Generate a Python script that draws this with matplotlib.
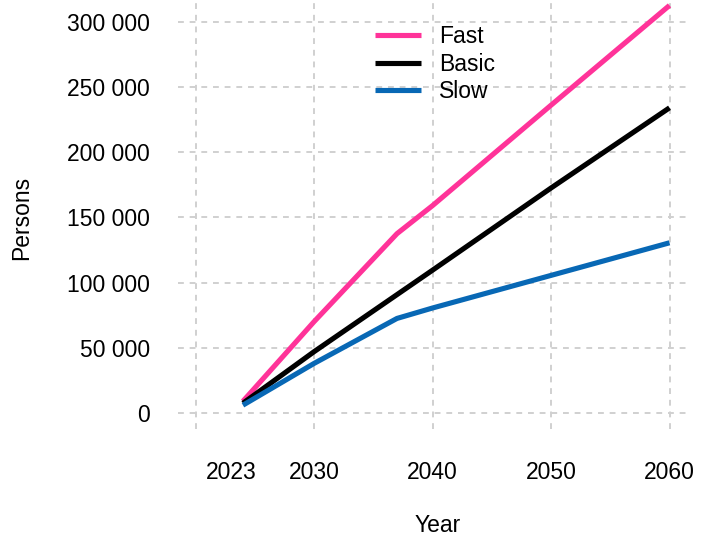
import matplotlib
matplotlib.use("Agg")
import matplotlib.pyplot as plt

# values
years_fast = [2024, 2030, 2037, 2040, 2050, 2060]
fast = [9000, 70000, 137500, 159000, 236000, 312500]

years_basic = [2024, 2030, 2040, 2050, 2060]
basic = [7500, 47000, 109500, 172500, 234000]

years_slow = [2024, 2030, 2037, 2040, 2050, 2060]
slow = [6000, 38000, 72500, 80500, 105500, 130500]

x_ticks = [2023, 2030, 2040, 2050, 2060]
x_grid = [2020, 2030, 2040, 2050, 2060]
y_ticks = [0, 50000, 100000, 150000, 200000, 250000, 300000]

plt.rcParams['font.family'] = ['Liberation Sans', 'DejaVu Sans']

fig = plt.figure(figsize=(7.12, 5.42), dpi=100)
ax = fig.add_axes([178 / 712, 1 - 429 / 542, (688 - 178) / 712, 429 / 542])

grid_kw = dict(color='#d0d0d0', linestyle=(0, (3, 3)), linewidth=1.4, zorder=0)
for g in x_grid:
    ax.axvline(g, **grid_kw)
for g in y_ticks:
    ax.axhline(g, **grid_kw)

lw = 3.7
ax.plot(years_fast, fast, color='#ff3399', lw=lw, label='Fast', solid_capstyle='butt', zorder=3)
ax.plot(years_basic, basic, color='black', lw=lw, label='Basic', solid_capstyle='butt', zorder=3)
ax.plot(years_slow, slow, color='#0868b5', lw=lw, label='Slow', solid_capstyle='butt', zorder=3)

ax.set_xlim(2018.52, 2061.56)
ax.set_ylim(-12270, 316650)

fs = 16.5
ax.set_xticks(x_ticks)
ax.set_xticklabels([str(x) for x in x_ticks])
ax.set_yticks(y_ticks)
ax.set_yticklabels([f"{v:,}".replace(',', ' ') for v in y_ticks])
ax.tick_params(axis='both', length=0, labelsize=fs, colors='black')
ax.tick_params(axis='x', pad=23)
ax.tick_params(axis='y', pad=20)
for s in ax.spines.values():
    s.set_visible(False)

fig.text(22 / 712, 1 - 218 / 542, 'Persons', rotation=90, ha='center', va='center', fontsize=fs)
fig.text(438 / 712, 1 - 525 / 542, 'Year', ha='center', va='center', fontsize=fs)

leg = fig.legend(loc='upper left', bbox_to_anchor=(375 / 712, 1 - 25 / 542),
                 frameon=False, fontsize=fs, handlelength=2.0, handletextpad=0.8,
                 labelspacing=0.2, borderpad=0, borderaxespad=0)

fig.savefig('out.png', dpi=100)
